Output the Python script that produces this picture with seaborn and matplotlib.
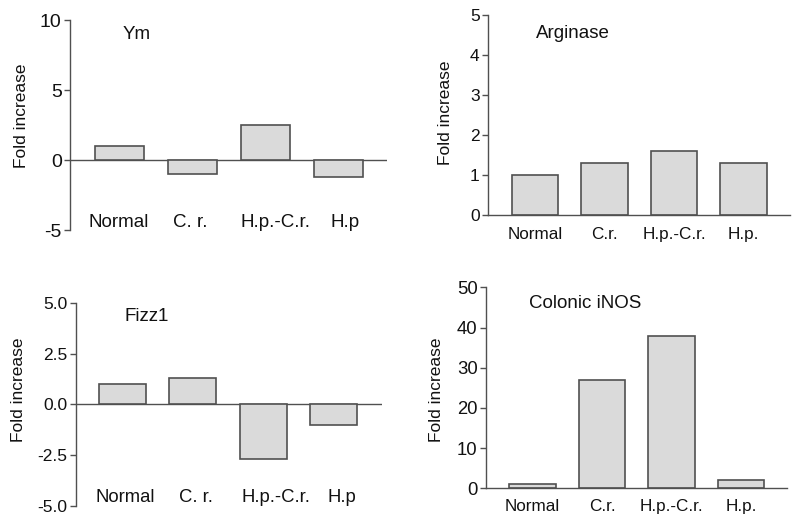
import matplotlib
matplotlib.use("Agg")
import matplotlib.pyplot as plt
import matplotlib.transforms as mtransforms
import seaborn as sns
import pandas as pd

OUTPUT = "out.png"

# data
cats_ym = ["Normal", "C. r.", "H.p.-C.r.", "H.p"]
ym = [1.0, -1.0, 2.5, -1.2]

cats_arg = ["Normal", "C.r.", "H.p.-C.r.", "H.p."]
arginase = [1.0, 1.3, 1.6, 1.3]

cats_fizz = ["Normal", "C. r.", "H.p.-C.r.", "H.p"]
fizz1 = [1.0, 1.3, -2.7, -1.0]

cats_inos = ["Normal", "C.r.", "H.p.-C.r.", "H.p."]
inos = [1.0, 27.0, 38.0, 2.0]

FILL = "#dadada"
EDGE = "#505050"
TEXT = "#111111"


def draw_panel(ax, cats, vals, title, yticks, ylim, xlim, fmt,
               tick_fs, cat_fs, label_y, ylab_xy, title_xy, zero_line,
               shift=(0, 0, 0, 0)):
    df = pd.DataFrame({"cat": cats, "val": vals})
    sns.barplot(data=df, x="cat", y="val", ax=ax, color=FILL, saturation=1,
                edgecolor=EDGE, linewidth=1.2, width=0.67, errorbar=None,
                order=cats)
    ax.set_xlim(*xlim)
    ax.set_ylim(*ylim)
    ax.set_yticks(yticks)
    ax.set_yticklabels([fmt.format(t) for t in yticks], fontsize=tick_fs, color=TEXT)
    ax.set_xticks([])
    ax.set_xlabel("")
    ax.set_ylabel("Fold increase", fontsize=12.5, color=TEXT)
    ax.yaxis.set_label_coords(*ylab_xy)
    ax.tick_params(axis="y", length=4, width=1.0, color=EDGE, pad=2)
    for s in ["top", "right"]:
        ax.spines[s].set_visible(False)
    ax.spines["left"].set_color(EDGE)
    ax.spines["left"].set_linewidth(1.0)
    if zero_line:
        ax.spines["bottom"].set_visible(False)
        ax.axhline(0, color=EDGE, lw=1.0, zorder=0)
    else:
        ax.spines["bottom"].set_color(EDGE)
        ax.spines["bottom"].set_linewidth(1.0)
    # category labels sit inside/below the axes, not on the zero line
    trans = mtransforms.blended_transform_factory(ax.transData, ax.transAxes)
    for i, c in enumerate(cats):
        ax.text(i + shift[i], label_y, c, transform=trans, ha="center",
                va="center", fontsize=cat_fs, color=TEXT, clip_on=False)
    ax.text(title_xy[0], title_xy[1], title, transform=ax.transAxes,
            ha="center", va="center", fontsize=13.5, color=TEXT)


def main():
    sns.set_style("ticks")
    plt.rcParams["font.family"] = ["Liberation Sans", "DejaVu Sans"]

    fig = plt.figure(figsize=(8, 5.26), dpi=100)

    ax1 = fig.add_axes([0.0875, 0.5627, 0.396, 0.399])
    draw_panel(ax1, cats_ym, ym, "Ym", [-5, 0, 5, 10], (-5, 10), (-0.67, 3.66),
               "{:g}", 14, 13.5, 0.035, (-0.128, 0.543), (0.211, 0.933), True,
               shift=(0, -0.02, 0.14, 0.085))

    ax2 = fig.add_axes([0.61, 0.5913, 0.3775, 0.380])
    draw_panel(ax2, cats_arg, arginase, "Arginase", [0, 1, 2, 3, 4, 5], (0, 5),
               (-0.68, 3.67), "{:g}", 12.5, 12.3, -0.1, (-0.115, 0.5125), (0.281, 0.91), False)

    ax3 = fig.add_axes([0.095, 0.038, 0.3825, 0.3865])
    draw_panel(ax3, cats_fizz, fizz1, "Fizz1", [-5, -2.5, 0, 2.5, 5], (-5, 5),
               (-0.66, 3.69), "{:.1f}", 12.5, 13.3, 0.04, (-0.162, 0.571), (0.232, 0.931), True,
               shift=(0.047, 0.047, 0.18, 0.12))

    ax4 = fig.add_axes([0.6075, 0.0717, 0.376, 0.382])
    draw_panel(ax4, cats_inos, inos, "Colonic iNOS", [0, 10, 20, 30, 40, 50], (0, 50),
               (-0.67, 3.66), "{:g}", 13.3, 12.3, -0.093, (-0.14, 0.49), (0.329, 0.922), False)

    fig.savefig(OUTPUT, dpi=100)


if __name__ == "__main__":
    main()
